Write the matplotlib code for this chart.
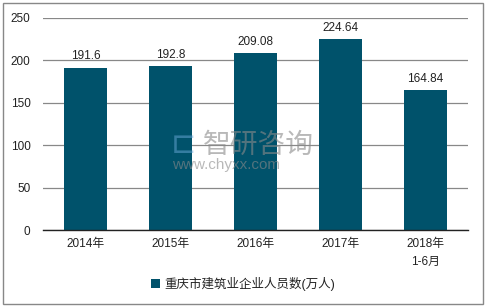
import matplotlib.pyplot as plt
from matplotlib.patches import Rectangle

# Datos
categorias = ["2014年", "2015年", "2016年", "2017年", "2018年\n1-6月"]
valores = [191.6, 192.8, 209.08, 224.64, 164.84]
etiquetas = ["191.6", "192.8", "209.08", "224.64", "164.84"]
serie = "重庆市建筑业企业人员数(万人)"

plt.rcParams["font.family"] = ["Liberation Sans", "Noto Sans CJK SC"]

fig = plt.figure(figsize=(4.86, 3.07), dpi=100)
ax = fig.add_axes([0.0885, 0.2508, 0.8745, 0.6906])

color = "#00526b"
x = range(len(categorias))
bars = ax.bar(x, valores, width=0.5, color=color, label=serie, zorder=3)

for xi, v, t in zip(x, valores, etiquetas):
    ax.text(xi, v + 6, t, ha="center", va="bottom", fontsize=8.5, color="#222222")

ax.set_xlim(-0.5, len(categorias) - 0.5)
ax.set_ylim(0, 250)
ax.set_yticks(range(0, 251, 50))
ax.set_xticks(list(x))
ax.set_xticklabels(categorias, fontsize=8.5, color="#222222", linespacing=1.6)
ax.tick_params(axis="y", labelsize=8.5, colors="#222222", length=0, pad=9)
ax.tick_params(axis="x", length=0, pad=6)

ax.grid(axis="y", color="#888888", linewidth=0.9, zorder=0)
for s in ["left", "right", "top"]:
    ax.spines[s].set_visible(False)
ax.spines["bottom"].set_color("#222222")
ax.spines["bottom"].set_linewidth(1.0)
ax.spines["bottom"].set_zorder(4)

# Marca de agua
fig.text(0.418, 0.528, "智研咨询", fontsize=20, color="#8a8a8a", alpha=0.6,
         ha="left", va="center", family=["Noto Sans CJK SC"], zorder=5)
fig.text(0.352, 0.528, "⊏", fontsize=22, color="#6aa8d8", alpha=0.5,
         ha="left", va="center", family=["DejaVu Sans"], zorder=5)
fig.text(0.354, 0.462, "www.chyxx.com", fontsize=11, color="#8a8a8a", alpha=0.6,
         ha="left", va="center", zorder=5)

leg = fig.legend(loc="center", bbox_to_anchor=(0.5, 0.075), frameon=False,
                 fontsize=9, handlelength=0.7, handleheight=0.7, handletextpad=0.3)
for t in leg.get_texts():
    t.set_color("#222222")

fig.patches.append(Rectangle((0.006, 0.01), 0.988, 0.98, transform=fig.transFigure,
                             fill=False, edgecolor="#888888", linewidth=1.0))

fig.savefig("out.png", dpi=100)
